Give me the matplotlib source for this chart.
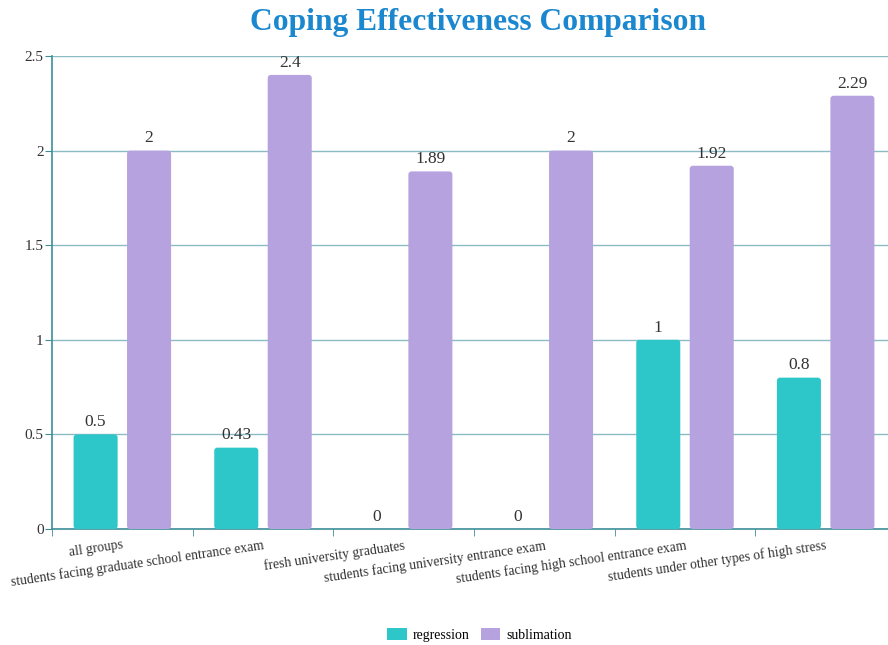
import numpy as np
import matplotlib
matplotlib.use("Agg")
import matplotlib.pyplot as plt
from matplotlib.patches import FancyBboxPatch, Patch

# --- data ---
categories = [
    "all groups",
    "students facing graduate school entrance exam",
    "fresh university graduates",
    "students facing university entrance exam",
    "students facing high school entrance exam",
    "students under other types of high stress",
]
regression = [0.5, 0.43, 0, 0, 1, 0.8]
sublimation = [2, 2.4, 1.89, 2, 1.92, 2.29]
y_ticks = [0, 0.5, 1, 1.5, 2, 2.5]

TEAL = "#2ec7c9"
PURPLE = "#b6a2de"
AXIS = "#3f8f99"
GRID = "#8cbcc2"

plt.rcParams["font.family"] = ["Liberation Serif", "DejaVu Serif"]

fig = plt.figure(figsize=(8.88, 6.45), dpi=100)
ax = fig.add_axes([52 / 888, 116 / 645, 844 / 888, 473 / 645])

ax.set_xlim(-0.5, len(categories) - 0.5)
ax.set_ylim(0, 2.5)

x = np.arange(len(categories))
w = 0.313
off = 0.19
b1 = ax.bar(x - off, regression, w, color=TEAL, zorder=3)
b2 = ax.bar(x + off, sublimation, w, color=PURPLE, zorder=3)

# swap the plain rectangles for slightly rounded ones
aspect = (2.5 / 473) / (6 / 844)
for bars in (b1, b2):
    for rect in bars:
        if rect.get_height() > 0:
            ax.add_patch(FancyBboxPatch(
                (rect.get_x(), 0), rect.get_width(), rect.get_height(),
                boxstyle="round,pad=0,rounding_size=0.022",
                mutation_aspect=aspect, facecolor=rect.get_facecolor(),
                edgecolor="none", zorder=3))
        rect.set_visible(False)

for bars, vals in ((b1, regression), (b2, sublimation)):
    for rect, v in zip(bars, vals):
        ax.annotate(f"{v:g}", (rect.get_x() + rect.get_width() / 2, v),
                    xytext=(0, 3), textcoords="offset points",
                    ha="center", va="bottom", fontsize=12.5, color="#333333")

ax.set_yticks(y_ticks)
ax.set_yticklabels([f"{t:g}" for t in y_ticks], fontsize=11, color="#333333")
ax.yaxis.grid(True, color=GRID, linewidth=1, zorder=0)

ax.set_xticks(x)
ax.set_xticklabels(categories, rotation=8.3, rotation_mode="anchor",
                   ha="right", va="top", fontsize=9.8, color="#333333")
ax.tick_params(axis="x", length=0, pad=7)
ax.set_xticks(np.arange(-0.5, len(categories)), minor=True)
ax.tick_params(axis="x", which="minor", length=5, color=AXIS)
ax.tick_params(axis="y", length=5, color=AXIS, pad=1)

for s in ("top", "right"):
    ax.spines[s].set_visible(False)
for s in ("left", "bottom"):
    ax.spines[s].set_color(AXIS)
    ax.spines[s].set_linewidth(1.2)

fig.suptitle("Coping Effectiveness Comparison", x=0.538, y=0.988,
             fontsize=22.7, fontweight="bold", color="#1a87cf")

handles = [Patch(facecolor=TEAL, label="regression"),
           Patch(facecolor=PURPLE, label="sublimation")]
fig.legend(handles=handles, loc="center", bbox_to_anchor=(0.54, 0.016),
           ncol=2, frameon=False, fontsize=10, handlelength=1.4,
           handleheight=1.0, columnspacing=0.8, handletextpad=0.45)

fig.savefig("out.png", dpi=100)
